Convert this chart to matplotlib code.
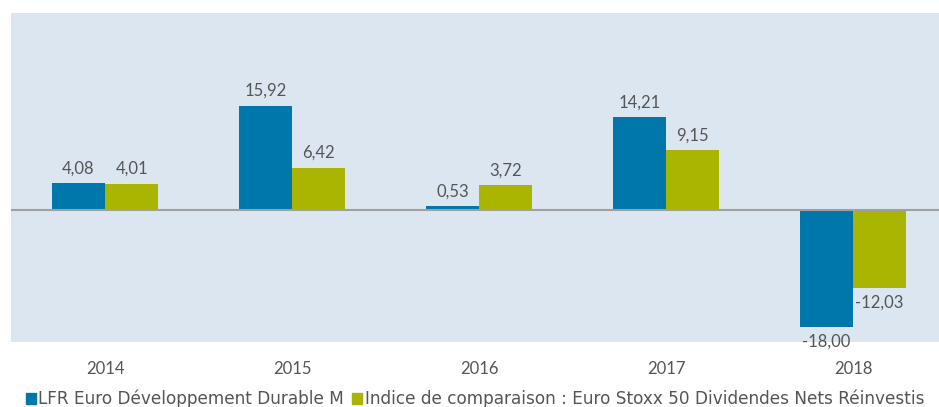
import numpy as np
import matplotlib.pyplot as plt
from matplotlib.patches import Patch

years = ['2014', '2015', '2016', '2017', '2018']
fund = [4.08, 15.92, 0.53, 14.21, -18.00]
index = [4.01, 6.42, 3.72, 9.15, -12.03]
fund_name = 'LFR Euro Développement Durable M'
index_name = 'Indice de comparaison : Euro Stoxx 50 Dividendes Nets Réinvestis'

blue = '#0077AA'
green = '#A9B500'
text_col = '#555555'

plt.rcParams['font.family'] = ['Lato', 'DejaVu Sans']

fig = plt.figure(figsize=(9.39, 4.07), dpi=100)
ax = fig.add_axes([0.0117, 0.16, 0.9883, 0.808])
ax.set_facecolor('#DCE6F1')

x = np.arange(len(years))
w = 0.285
b1 = ax.bar(x - w / 2, fund, w, color=blue)
b2 = ax.bar(x + w / 2, index, w, color=green)

for bars in (b1, b2):
    for rect in bars:
        v = rect.get_height()
        cx = rect.get_x() + rect.get_width() / 2
        lab = f'{v:.2f}'.replace('.', ',')
        if v >= 0:
            ax.annotate(lab, (cx, v), xytext=(0, 5), textcoords='offset points',
                        ha='center', va='bottom', fontsize=12, color=text_col)
        else:
            ax.annotate(lab, (cx, v), xytext=(0, -5), textcoords='offset points',
                        ha='center', va='top', fontsize=12, color=text_col)

ax.axhline(0, color='#A0A0A0', lw=1.5)
ax.set_xlim(-0.503, 4.46)
ax.set_ylim(-20.3, 30.2)
ax.set_xticks(x)
ax.set_xticklabels(years, fontsize=12, color=text_col)
ax.tick_params(axis='x', length=0, pad=14)
ax.set_yticks([])
for s in ax.spines.values():
    s.set_visible(False)

handles = [Patch(color=blue, label=fund_name), Patch(color=green, label=index_name)]
fig.legend(handles=handles, loc='lower left', bbox_to_anchor=(0.011, -0.04), ncol=2,
           frameon=False, prop={'family': 'DejaVu Sans', 'size': 12.15},
           handlelength=0.6, handleheight=0.6,
           handletextpad=0.15, columnspacing=0.5, labelcolor=text_col)

fig.savefig('out.png', dpi=100)
